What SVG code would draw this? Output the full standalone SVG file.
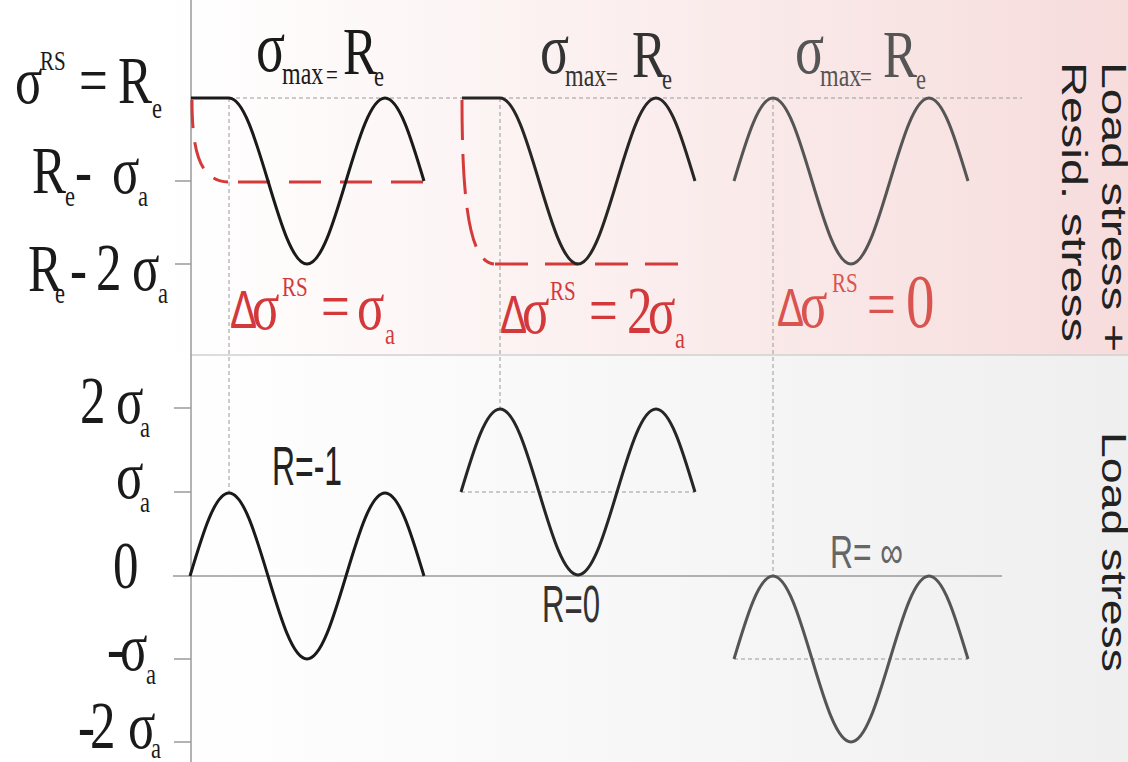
<svg xmlns="http://www.w3.org/2000/svg" width="1128" height="762" viewBox="0 0 1128 762">
<defs>
<linearGradient id="gTop" x1="0" y1="0" x2="1128" y2="0" gradientUnits="userSpaceOnUse">
<stop offset="0.15" stop-color="#ffffff"/>
<stop offset="1" stop-color="#f7dcdc"/>
</linearGradient>
<linearGradient id="gBot" x1="0" y1="0" x2="1128" y2="0" gradientUnits="userSpaceOnUse">
<stop offset="0.15" stop-color="#ffffff"/>
<stop offset="1" stop-color="#efefef"/>
</linearGradient>
<style>
.ser{font-family:"Liberation Serif","Times New Roman",serif;font-size:68px;}
.sub{font-size:30px;}
.sup{font-size:28px;}
.mx{font-size:32px;}
.eq{font-size:28px;}
.dl{font-family:"Liberation Sans",Arial,sans-serif;font-size:54px;}
.sans{font-family:"Liberation Sans",Arial,sans-serif;}
.axis{stroke:#9a9a9a;stroke-width:1.5;fill:none;}
.guide{stroke:#9a9a9a;stroke-width:1;stroke-dasharray:4 3;fill:none;}
.wave{fill:none;stroke-width:3;stroke-linecap:butt;stroke-linejoin:round;}
.red{fill:none;stroke:#d43a3a;stroke-width:3;}
</style>
</defs>
<rect x="0" y="0" width="1128" height="355" fill="url(#gTop)"/>
<rect x="0" y="355" width="1128" height="407" fill="url(#gBot)"/>
<line x1="191" y1="355" x2="1128" y2="355" stroke="#d0d0d0" stroke-width="1.5"/>

<g id="axis">
<line class="axis" x1="191" y1="0" x2="191" y2="762"/>
<line class="axis" x1="175" y1="181" x2="191" y2="181"/>
<line class="axis" x1="175" y1="264" x2="191" y2="264"/>
<line class="axis" x1="174" y1="408" x2="191" y2="408"/>
<line class="axis" x1="174" y1="492" x2="191" y2="492"/>
<line class="axis" x1="173" y1="576" x2="1002" y2="576"/>
<line class="axis" x1="174" y1="659" x2="191" y2="659"/>
<line class="axis" x1="174" y1="742" x2="191" y2="742"/>
</g>

<g id="connectors">
<line class="guide" x1="229" y1="98" x2="1022" y2="98"/>
<line class="guide" x1="229" y1="98" x2="229" y2="493"/>
<line class="guide" x1="500" y1="98" x2="500" y2="409"/>
<line class="guide" x1="773" y1="98" x2="773" y2="576"/>
<line class="guide" x1="461" y1="492" x2="695" y2="492"/>
<line class="guide" x1="734" y1="659" x2="968" y2="659"/>
</g>

<g id="axis-labels" fill="#1a1a1a">
<g transform="scale(0.75,1)">
<text class="ser"><tspan x="20" y="103">σ</tspan><tspan class="sup" x="53.3" y="70">RS </tspan><tspan x="105.3" y="103">= </tspan><tspan x="157.3" y="103">R</tspan><tspan class="sub" x="202.7" y="118">e</tspan></text>
<text class="ser"><tspan x="42.7" y="193">R</tspan><tspan class="sub" x="86.7" y="206">e</tspan><tspan x="100" y="193">- </tspan><tspan x="149.3" y="193">σ</tspan><tspan class="sub" x="184" y="206">a</tspan></text>
<text class="ser"><tspan x="37.3" y="291">R</tspan><tspan class="sub" x="73.3" y="303">e</tspan><tspan x="93.3" y="291">- </tspan><tspan x="128" y="290">2 </tspan><tspan x="176" y="290">σ</tspan><tspan class="sub" x="210.7" y="303">a</tspan></text>
<text class="ser"><tspan x="106.7" y="423">2 </tspan><tspan x="154.7" y="423">σ</tspan><tspan class="sub" x="186.7" y="437">a</tspan></text>
<text class="ser"><tspan x="154.7" y="498">σ</tspan><tspan class="sub" x="186.7" y="512">a</tspan></text>
<text class="ser" x="150.7" y="588">0</text>
<text class="ser"><tspan x="142.7" y="670">-</tspan><tspan x="160" y="670">σ</tspan><tspan class="sub" x="194.7" y="684">a</tspan></text>
<text class="ser"><tspan x="104" y="748">-</tspan><tspan x="120" y="748">2 </tspan><tspan x="170.7" y="748">σ</tspan><tspan class="sub" x="201.3" y="758">a</tspan></text>
</g>
</g>

<g id="panel1-top">
<path class="red" stroke-dasharray="28 14" d="M192,100 C192,152 200,181 228,182"/>
<path class="red" stroke-dasharray="32 19" d="M238,182 L425,182"/>
<path class="wave" stroke="#1a1a1a" d="M191,98 L229,98 C243.11,98 255.28,138.5 268,181 C280.72,223.5 292.89,264 307,264 C321.11,264 333.28,223.5 346,181 C358.72,138.5 370.89,98 385,98 C399.11,98 411.28,138.5 424,181"/>
<g transform="scale(0.75,1)" fill="#1a1a1a">
<text class="ser"><tspan x="341.3" y="71" style="font-size:72px">σ</tspan><tspan class="mx" x="376" y="84">max </tspan><tspan class="eq" x="434.7" y="84">= </tspan><tspan x="457.3" y="74">R</tspan><tspan class="sub" x="498.7" y="86">e</tspan></text>
</g>
<g transform="scale(0.75,1)" fill="#d3393b">
<text class="ser"><tspan class="dl" x="306.7" y="328">Δ</tspan><tspan x="336" y="329">σ</tspan><tspan class="sup" x="376" y="296">RS </tspan><tspan x="428" y="329">= </tspan><tspan x="476" y="329">σ</tspan><tspan class="sub" x="513.3" y="344">a</tspan></text>
</g>
</g>

<g id="panel2-top">
<path class="red" stroke-dasharray="40 14" d="M462,100 C462,205 470,262 494,264"/>
<path class="red" stroke-dasharray="33 17" d="M495,264 L680,264"/>
<path class="wave" stroke="#262626" d="M462,98 L500,98 C514.11,98 526.28,138.5 539,181 C551.72,223.5 563.89,264 578,264 C592.11,264 604.28,223.5 617,181 C629.72,138.5 641.89,98 656,98 C670.11,98 682.28,138.5 695,181"/>
<g transform="scale(0.75,1)" fill="#333333">
<text class="ser"><tspan x="720" y="73" style="font-size:72px">σ</tspan><tspan class="mx" x="753.3" y="86">max </tspan><tspan class="eq" x="808" y="86">= </tspan><tspan x="842.7" y="77">R</tspan><tspan class="sub" x="882.7" y="89">e</tspan></text>
</g>
<g transform="scale(0.75,1)" fill="#d3393b">
<text class="ser"><tspan class="dl" x="666.7" y="333">Δ</tspan><tspan x="696" y="333">σ</tspan><tspan class="sup" x="733.3" y="300">RS </tspan><tspan x="785.3" y="333">= </tspan><tspan x="836" y="333">2</tspan><tspan x="864" y="333">σ</tspan><tspan class="sub" x="900" y="348">a</tspan></text>
</g>
</g>

<g id="panel3-top">
<path class="wave" stroke="#555555" d="M734,181 C746.72,138.5 758.89,98 773,98 C787.11,98 799.28,138.5 812,181 C824.72,223.5 836.89,264 851,264 C865.11,264 877.28,223.5 890,181 C902.72,138.5 914.89,98 929,98 C943.11,98 955.28,138.5 968,181"/>
<g transform="scale(0.75,1)" fill="#555555">
<text class="ser"><tspan x="1060" y="73" style="font-size:72px">σ</tspan><tspan class="mx" x="1093.3" y="86">max </tspan><tspan class="eq" x="1146.7" y="86">= </tspan><tspan x="1177.3" y="77">R</tspan><tspan class="sub" x="1221.3" y="89">e</tspan></text>
</g>
<g transform="scale(0.75,1)" fill="#d9534f">
<text class="ser"><tspan class="dl" x="1036" y="326">Δ</tspan><tspan x="1066.7" y="327">σ</tspan><tspan class="sup" x="1109.3" y="292">RS </tspan><tspan x="1156" y="327">= </tspan><tspan x="1208" y="327" style="font-size:76px">0</tspan></text>
</g>
</g>

<g id="panel1-bottom">
<path class="wave" stroke="#1a1a1a" d="M190,576 C202.72,533.5 214.89,493 229,493 C243.11,493 255.28,533.5 268,576 C280.72,618.5 292.89,659 307,659 C321.11,659 333.28,618.5 346,576 C358.72,533.5 370.89,493 385,493 C399.11,493 411.28,533.5 424,576"/>
<text class="sans" x="272" y="485" font-size="56" textLength="70" lengthAdjust="spacingAndGlyphs" fill="#222222">R=-1</text>
</g>

<g id="panel2-bottom">
<path class="wave" stroke="#262626" d="M461,492 C473.72,449.5 485.89,409 500,409 C514.11,409 526.28,449.5 539,492 C551.72,534.5 563.89,575 578,575 C592.11,575 604.28,534.5 617,492 C629.72,449.5 641.89,409 656,409 C670.11,409 682.28,449.5 695,492"/>
<text class="sans" x="542" y="622" font-size="52" textLength="58" lengthAdjust="spacingAndGlyphs" fill="#333333">R=0</text>
</g>

<g id="panel3-bottom">
<path class="wave" stroke="#555555" d="M734,659 C746.72,616.5 758.89,576 773,576 C787.11,576 799.28,616.5 812,659 C824.72,701.5 836.89,742 851,742 C865.11,742 877.28,701.5 890,659 C902.72,616.5 914.89,576 929,576 C943.11,576 955.28,616.5 968,659"/>
<text class="sans" x="830" y="568" font-size="46" textLength="73" lengthAdjust="spacingAndGlyphs" fill="#666666">R= ∞</text>
</g>

<g id="side-labels" fill="#222222">
<text class="sans" font-size="47" textLength="290" lengthAdjust="spacingAndGlyphs" transform="translate(1102,62) scale(0.75,1) rotate(90)">Load stress +</text>
<text class="sans" font-size="47" textLength="280" lengthAdjust="spacingAndGlyphs" transform="translate(1062,62) scale(0.75,1) rotate(90)">Resid. stress</text>
<text class="sans" font-size="47" textLength="240" lengthAdjust="spacingAndGlyphs" transform="translate(1102,432) scale(0.75,1) rotate(90)">Load stress</text>
</g>
</svg>
